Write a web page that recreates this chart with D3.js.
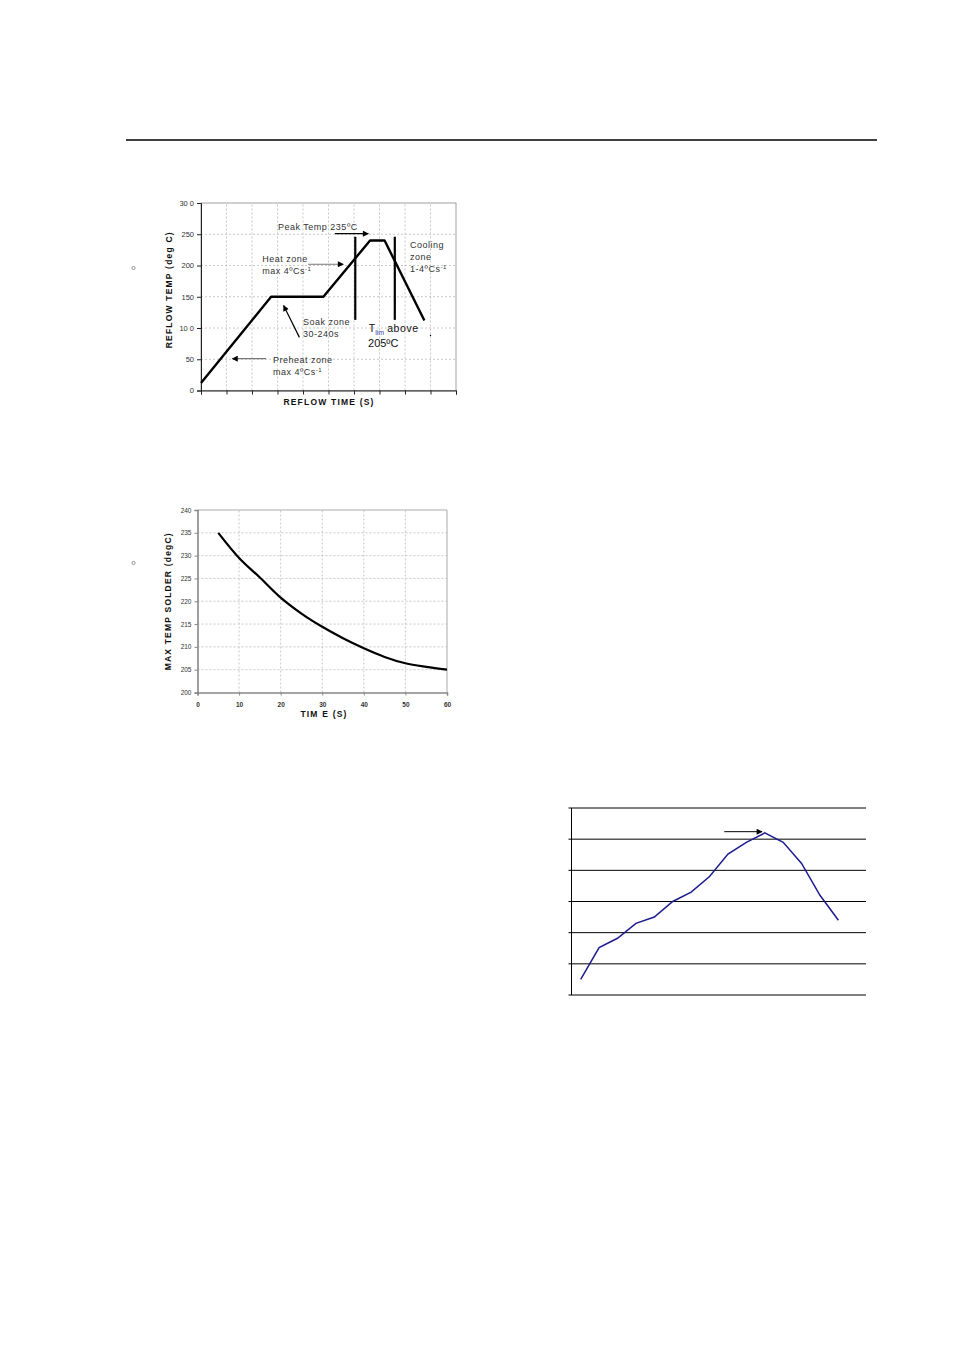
<!DOCTYPE html>
<html>
<head>
<meta charset="UTF-8" />
<title>Reflow profile charts</title>
<script src="https://d3js.org/d3.v7.min.js"></script>
<style>
  body { margin: 0; background: #fff; }
  svg { font-family: "Liberation Sans", Arial, sans-serif; }
  .grid line { stroke: #bbb; stroke-dasharray: 2,2; stroke-width: 0.8; }
  .tick text { fill: #333; }
  .ann { font-size: 9px; fill: #333; letter-spacing: 0.5px; }
  .atitle { font-size: 8.5px; font-weight: bold; fill: #111; letter-spacing: 1.2px; }
</style>
</head>
<body>
<svg width="954" height="1350"></svg>
<script>
// ---- chart 1: reflow profile ----
const reflowTime = [0, 2.75, 4.8, 6.63, 7.2, 8.76];
const reflowTemp = [12, 150, 150, 240, 240, 112];
const reflowYTicks = [0, 50, 100, 150, 200, 250, 300];
const tlimX = [6.05, 7.6];
const tlimRange = [113, 246];

// ---- chart 2: max solder temperature vs time ----
const soldTime = [5, 10, 15, 20, 25, 30, 35, 40, 45, 50, 55, 60];
const soldTemp = [235, 229.5, 225.2, 220.8, 217.3, 214.4, 211.9, 209.7, 207.8, 206.4, 205.6, 205];
const soldXTicks = [0, 10, 20, 30, 40, 50, 60];
const soldYTicks = [200, 205, 210, 215, 220, 225, 230, 235, 240];

// ---- chart 3: measured profile ----
const profTemp = [25, 76, 91, 115, 125, 150, 165, 190, 226, 245, 260, 245, 211, 160, 120];
const profYTicks = [0, 50, 100, 150, 200, 250, 300];

const svg = d3.select("svg");
svg.append("rect").attr("width", 954).attr("height", 1350).attr("fill", "#fff");

// top rule
svg.append("line").attr("x1", 126).attr("x2", 877).attr("y1", 140).attr("y2", 140)
  .attr("stroke", "#000").attr("stroke-width", 1.5);

// small bullets
[268, 563].forEach(y => {
  svg.append("circle").attr("cx", 133.5).attr("cy", y).attr("r", 1.6)
    .attr("fill", "none").attr("stroke", "#555").attr("stroke-width", 0.6);
});

function arrowHead(g, id) {
  g.append("defs").append("marker").attr("id", id)
    .attr("viewBox", "0 0 10 10").attr("refX", 9).attr("refY", 5)
    .attr("markerWidth", 7).attr("markerHeight", 6).attr("orient", "auto")
    .attr("markerUnits", "userSpaceOnUse")
    .append("path").attr("d", "M0,0 L10,5 L0,10 z").attr("fill", "#000");
}
arrowHead(svg, "ah");

// ================= Chart 1 =================
{
  const x = d3.scaleLinear().domain([0, 10]).range([201, 456]);
  const y = d3.scaleLinear().domain([0, 300]).range([390.5, 203]);
  const g = svg.append("g");

  g.append("g").attr("class", "grid")
    .selectAll("line.v").data(d3.range(1, 10)).join("line")
    .attr("x1", d => x(d)).attr("x2", d => x(d)).attr("y1", y(0)).attr("y2", y(300));
  g.append("g").attr("class", "grid")
    .selectAll("line.h").data(reflowYTicks.slice(1, -1)).join("line")
    .attr("x1", x(0)).attr("x2", x(10)).attr("y1", d => y(d)).attr("y2", d => y(d));

  g.append("rect").attr("x", x(0)).attr("y", y(300)).attr("width", x(10) - x(0))
    .attr("height", y(0) - y(300)).attr("fill", "none").attr("stroke", "#888").attr("stroke-width", 0.8);

  const ax = g.append("g").attr("transform", `translate(0,${y(0)})`)
    .call(d3.axisBottom(x).ticks(10).tickSize(4).tickFormat(""));
  ax.select(".domain").attr("stroke", "#222");
  ax.selectAll(".tick line").attr("stroke", "#222");

  const ay = g.append("g").attr("transform", `translate(${x(0)},0)`)
    .call(d3.axisLeft(y).tickValues(reflowYTicks).tickSize(4)
      .tickFormat(d => d === 300 ? "30 0" : (d === 100 ? "10 0" : d)));
  ay.select(".domain").attr("stroke", "#222");
  ay.selectAll(".tick line").attr("stroke", "#222");
  ay.selectAll(".tick text").attr("font-size", 7.5).attr("font-family", "Liberation Sans");

  g.append("text").attr("class", "atitle")
    .attr("transform", `translate(172,${(y(0) + y(300)) / 2 - 7}) rotate(-90)`)
    .attr("text-anchor", "middle").attr("font-size", 8.5).attr("letter-spacing", 0.4)
    .text("REFLOW TEMP (deg C)");
  g.append("text").attr("class", "atitle").attr("x", 329).attr("y", 405)
    .attr("text-anchor", "middle").text("REFLOW  TIME (S)");

  const pts = reflowTime.map((t, i) => [t, reflowTemp[i]]);
  g.append("path").datum(pts)
    .attr("d", d3.line().x(d => x(d[0])).y(d => y(d[1])))
    .attr("fill", "none").attr("stroke", "#000").attr("stroke-width", 2.4)
    .attr("stroke-linejoin", "round");

  tlimX.forEach(t => {
    g.append("line").attr("x1", x(t)).attr("x2", x(t))
      .attr("y1", y(tlimRange[0])).attr("y2", y(tlimRange[1]))
      .attr("stroke", "#000").attr("stroke-width", 2.2);
  });
  g.append("line").attr("x1", x(9.0)).attr("x2", x(9.0)).attr("y1", y(89)).attr("y2", y(87))
    .attr("stroke", "#000").attr("stroke-width", 1.2);

  const arrows = [
    { from: [5.25, 251], to: [6.56, 251], c: "#000" },
    { from: [4.2, 202], to: [5.58, 202], c: "#777" },
    { from: [3.86, 85], to: [3.24, 136], c: "#000" },
    { from: [2.55, 51], to: [1.23, 51], c: "#777" }
  ];
  arrows.forEach(a => {
    g.append("line").attr("x1", x(a.from[0])).attr("y1", y(a.from[1]))
      .attr("x2", x(a.to[0])).attr("y2", y(a.to[1]))
      .attr("stroke", a.c).attr("stroke-width", 1.2).attr("marker-end", "url(#ah)");
  });

  const ann = (t, v, txt) => g.append("text").attr("class", "ann")
    .attr("x", x(t)).attr("y", y(v)).text(txt);
  ann(3.02, 257, "Peak Temp 235ºC");
  ann(2.4, 205, "Heat zone");
  g.append("text").attr("class", "ann").attr("x", x(2.4)).attr("y", y(186))
    .html('max 4ºCs<tspan dy="-3" font-size="6">-1</tspan>');
  ann(8.2, 228, "Cooling");
  ann(8.2, 209, "zone");
  g.append("text").attr("class", "ann").attr("x", x(8.2)).attr("y", y(190))
    .html('1-4ºCs<tspan dy="-3" font-size="6">-1</tspan>');
  ann(4, 105, "Soak zone");
  ann(4, 86, "30-240s");
  ann(2.82, 44, "Preheat zone");
  g.append("text").attr("class", "ann").attr("x", x(2.82)).attr("y", y(25))
    .html('max 4ºCs<tspan dy="-3" font-size="6">-1</tspan>');
  g.append("text").attr("x", x(6.58)).attr("y", y(93)).attr("font-size", 10.5).attr("fill", "#111")
    .html('T<tspan dy="3" font-size="7" fill="#44a">lim</tspan><tspan dy="-3" dx="3" letter-spacing="0.6">above</tspan>');
  g.append("text").attr("x", x(6.55)).attr("y", y(69)).attr("font-size", 11).attr("fill", "#111")
    .text("205ºC");
}

// ================= Chart 2 =================
{
  const x = d3.scaleLinear().domain([0, 60]).range([197.5, 447]);
  const y = d3.scaleLinear().domain([200, 240]).range([692.5, 510]);
  const g = svg.append("g");

  g.append("g").attr("class", "grid")
    .selectAll("line").data(soldXTicks.slice(1, -1)).join("line")
    .attr("x1", d => x(d)).attr("x2", d => x(d)).attr("y1", y(200)).attr("y2", y(240));
  g.append("g").attr("class", "grid")
    .selectAll("line").data(soldYTicks.slice(1, -1)).join("line")
    .attr("x1", x(0)).attr("x2", x(60)).attr("y1", d => y(d)).attr("y2", d => y(d))
    .attr("stroke", d => d === 225 ? "#777" : null);

  g.append("line").attr("x1", x(0)).attr("x2", x(60)).attr("y1", y(240)).attr("y2", y(240))
    .attr("stroke", "#aaa").attr("stroke-width", 1);
  g.append("line").attr("x1", x(60)).attr("x2", x(60)).attr("y1", y(240)).attr("y2", y(200))
    .attr("stroke", "#aaa").attr("stroke-width", 1);

  const ax = g.append("g").attr("transform", `translate(0,${y(200)})`)
    .call(d3.axisBottom(x).tickValues(soldXTicks).tickSize(3).tickPadding(7));
  ax.select(".domain").attr("stroke", "#888").attr("stroke-width", 1.6);
  ax.selectAll(".tick line").attr("stroke", "#888");
  ax.selectAll(".tick text").attr("font-size", 6.5).attr("font-weight", "bold").attr("fill", "#445");

  const ay = g.append("g").attr("transform", `translate(${x(0)},0)`)
    .call(d3.axisLeft(y).tickValues(soldYTicks).tickSize(3).tickPadding(3));
  ay.select(".domain").attr("stroke", "#888").attr("stroke-width", 1.6);
  ay.selectAll(".tick line").attr("stroke", "#888");
  ay.selectAll(".tick text").attr("font-size", 6.5).attr("fill", "#445");

  g.append("text").attr("class", "atitle")
    .attr("transform", `translate(171,${(y(200) + y(240)) / 2}) rotate(-90)`)
    .attr("text-anchor", "middle").attr("letter-spacing", 0.3).text("MAX TEMP SOLDER (degC)");
  g.append("text").attr("class", "atitle").attr("x", 324).attr("y", 717)
    .attr("text-anchor", "middle").attr("font-size", 8).text("TIM E  (S)");

  const pts = soldTime.map((t, i) => [t, soldTemp[i]]);
  g.append("path").datum(pts)
    .attr("d", d3.line().curve(d3.curveCatmullRom.alpha(0.5)).x(d => x(d[0])).y(d => y(d[1])))
    .attr("fill", "none").attr("stroke", "#000").attr("stroke-width", 2.2);
}

// ================= Chart 3 =================
{
  const x = d3.scaleLinear().domain([0, 16]).range([571.5, 866]);
  const y = d3.scaleLinear().domain([0, 300]).range([995, 808]);
  const g = svg.append("g");

  g.selectAll("line.h").data(profYTicks).join("line")
    .attr("x1", x(0) - 3).attr("x2", x(16)).attr("y1", d => y(d)).attr("y2", d => y(d))
    .attr("stroke", "#000").attr("stroke-width", 1);
  g.append("line").attr("x1", x(0)).attr("x2", x(0)).attr("y1", y(0)).attr("y2", y(300))
    .attr("stroke", "#000").attr("stroke-width", 1);

  g.append("path").datum(profTemp)
    .attr("d", d3.line().x((d, i) => x(i + 0.5)).y(d => y(d)))
    .attr("fill", "none").attr("stroke", "#1c1c8f").attr("stroke-width", 1.5);

  g.append("line").attr("x1", x(8.3)).attr("x2", x(10.35)).attr("y1", y(262)).attr("y2", y(262))
    .attr("stroke", "#000").attr("stroke-width", 1).attr("marker-end", "url(#ah)");
}
</script>
</body>
</html>
